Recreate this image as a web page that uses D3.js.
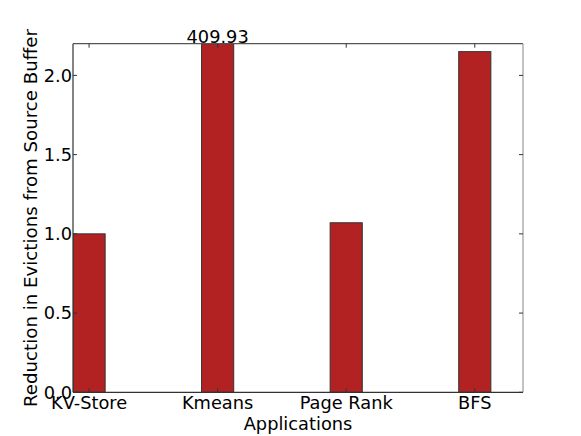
<!DOCTYPE html>
<html>
<head>
<meta charset="utf-8">
<script src="https://cdn.jsdelivr.net/npm/d3@7"></script>
<style>
  body { margin: 0; background: #fff; }
  svg text { font-family: "DejaVu Sans", sans-serif; fill: #000; }
</style>
</head>
<body>
<svg width="581" height="436"></svg>
<script>
var apps = ["KV-Store", "Kmeans", "Page Rank", "BFS"];
var reduction = [1.0, 409.93, 1.07, 2.15];
var yTicks = [0.0, 0.5, 1.0, 1.5, 2.0];
var yMax = 2.2;

var svg = d3.select("svg"),
    plotL = 73, plotT = 43.7, plotR = 523, plotB = 392.3,
    fs = 17.8;

var xScale = d3.scaleLinear().domain([0, 3.5]).range([plotL, plotR]),
    yScale = d3.scaleLinear().domain([0, yMax]).range([plotB, plotT]);
var barW = 0.25;

svg.append("clipPath").attr("id", "plotclip").append("rect")
    .attr("x", plotL).attr("y", plotT).attr("width", plotR - plotL).attr("height", plotB - plotT);

// bars
svg.append("g").attr("clip-path", "url(#plotclip)")
    .selectAll("rect").data(reduction).enter().append("rect")
    .attr("x", function(d, i){ return xScale(i); })
    .attr("width", function(d, i){ return xScale(i + barW) - xScale(i); })
    .attr("y", function(d){ return yScale(Math.min(d, yMax)); })
    .attr("height", function(d){ return plotB - yScale(Math.min(d, yMax)); })
    .attr("fill", "#b22222").attr("stroke", "#333").attr("stroke-width", 1);

// label for bars running past the top
svg.selectAll(".over").data(reduction.map(function(d, i){ return [d, i]; })
        .filter(function(p){ return p[0] > yMax; }))
    .enter().append("text").attr("class", "over")
    .attr("x", function(p){ return xScale(p[1] + barW / 2); })
    .attr("y", plotT - 0.5)
    .attr("text-anchor", "middle").attr("font-size", fs + "px")
    .text(function(p){ return p[0].toFixed(2); });

// frame
svg.append("line").attr("x1", plotL).attr("x2", plotR).attr("y1", plotT).attr("y2", plotT)
    .attr("stroke", "#555").attr("stroke-width", 1.2);
svg.append("line").attr("x1", plotL).attr("x2", plotR).attr("y1", plotB).attr("y2", plotB)
    .attr("stroke", "#333").attr("stroke-width", 1.2);
svg.append("line").attr("x1", plotL).attr("x2", plotL).attr("y1", plotT).attr("y2", plotB)
    .attr("stroke", "#333").attr("stroke-width", 1.2);
svg.append("line").attr("x1", plotR).attr("x2", plotR).attr("y1", plotT).attr("y2", plotB)
    .attr("stroke", "#999").attr("stroke-width", 1.2);

// y axis ticks (inward, both sides)
var yt = svg.append("g");
yTicks.forEach(function(v){
    var y = yScale(v);
    yt.append("line").attr("x1", plotL).attr("x2", plotL + 4).attr("y1", y).attr("y2", y).attr("stroke", "#333");
    yt.append("line").attr("x1", plotR).attr("x2", plotR - 4).attr("y1", y).attr("y2", y).attr("stroke", "#333");
    yt.append("text").attr("x", plotL - 1).attr("y", y).attr("dy", "0.36em")
        .attr("text-anchor", "end").attr("font-size", fs + "px").text(v.toFixed(1));
});

// x axis ticks (inward, top and bottom)
var xt = svg.append("g");
apps.forEach(function(name, i){
    var x = xScale(i + barW / 2);
    xt.append("line").attr("x1", x).attr("x2", x).attr("y1", plotT).attr("y2", plotT + 4).attr("stroke", "#333");
    xt.append("line").attr("x1", x).attr("x2", x).attr("y1", plotB).attr("y2", plotB - 4).attr("stroke", "#333");
    xt.append("text").attr("x", x).attr("y", 409)
        .attr("text-anchor", "middle").attr("font-size", fs + "px").text(name);
});

// axis titles
svg.append("text").attr("x", (plotL + plotR) / 2).attr("y", 430)
    .attr("text-anchor", "middle").attr("font-size", fs + "px").text("Applications");
svg.append("text").attr("transform", "translate(37,218) rotate(-90)")
    .attr("text-anchor", "middle").attr("font-size", "18.2px")
    .text("Reduction in Evictions from Source Buffer");
</script>
</body>
</html>
